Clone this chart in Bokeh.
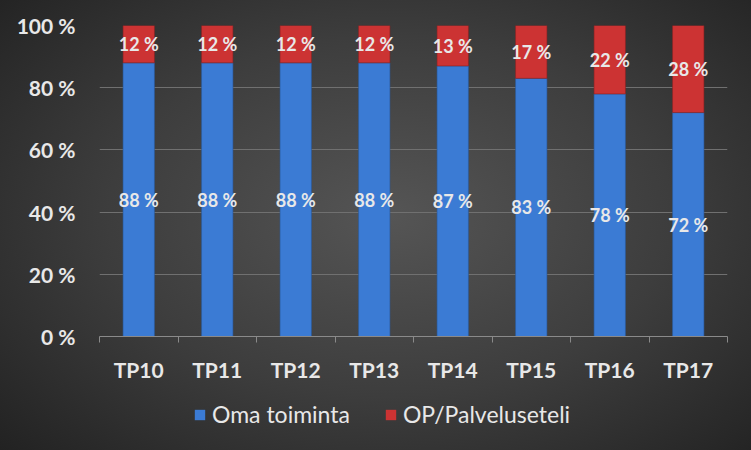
from bokeh.plotting import figure
from bokeh.layouts import column
from bokeh.models import (ColumnDataSource, FixedTicker, LinearAxis, Legend, LegendItem,
                          InlineStyleSheet, Range1d)
from bokeh.core.properties import value
from bokeh.embed import file_html
from bokeh.resources import INLINE

categories = ["TP10", "TP11", "TP12", "TP13", "TP14", "TP15", "TP16", "TP17"]
oma = [88, 88, 88, 88, 87, 83, 78, 72]
op = [12, 12, 12, 12, 13, 17, 22, 28]
y_ticks = [0, 20, 40, 60, 80, 100]
series_names = ["Oma toiminta", "OP/Palveluseteli"]

BLUE = "#3b7bd4"
RED = "#cc3333"
TXT = "#e8e8e8"
FONT = "Lato"

x = [i + 0.5 for i in range(len(categories))]
src = ColumnDataSource(dict(
    x=x, oma=oma, op=op,
    oma_top=oma,
    op_bottom=oma,
    op_top=[a + b for a, b in zip(oma, op)],
    oma_mid=[a / 2 for a in oma],
    op_mid=[a + b / 2 for a, b in zip(oma, op)],
    oma_lbl=[f"{v} %" for v in oma],
    op_lbl=[f"{v} %" for v in op],
))

p = figure(width=751, height=390, output_backend="svg", toolbar_location=None,
           x_range=Range1d(0, len(categories)), y_range=Range1d(0, 100),
           x_axis_location=None, y_axis_location=None,
           min_border_left=99, min_border_right=24, min_border_top=25, min_border_bottom=54)
p.background_fill_color = None
p.border_fill_color = None
p.outline_line_color = None

r_oma = p.vbar(x="x", bottom=0, top="oma_top", width=0.4, source=src,
               fill_color=BLUE, line_color="#2a5a9c", line_width=0.6)
r_op = p.vbar(x="x", bottom="op_bottom", top="op_top", width=0.4, source=src,
              fill_color=RED, line_color="#8c2222", line_width=0.6)

p.text(x="x", y="oma_mid", text="oma_lbl", source=src, text_align="center",
       text_baseline="middle", text_color=TXT, text_font=value(FONT),
       text_font_style="bold", text_font_size="18px")
p.text(x="x", y="op_mid", text="op_lbl", source=src, text_align="center",
       text_baseline="middle", text_color=TXT, text_font=value(FONT),
       text_font_style="bold", text_font_size="18px")

# y axis
yax = LinearAxis(ticker=FixedTicker(ticks=y_ticks),
                 major_label_overrides={t: f"{t} %" for t in y_ticks})
yax.axis_line_color = None
yax.major_tick_line_color = None
yax.minor_tick_line_color = None
yax.major_label_standoff = 18
yax.major_label_text_font = FONT
yax.major_label_text_font_style = "bold"
yax.major_label_text_font_size = "21px"
yax.major_label_text_color = TXT
p.add_layout(yax, "left")

p.ygrid.ticker = FixedTicker(ticks=y_ticks[1:])
p.ygrid.grid_line_color = "#707070"
p.ygrid.grid_line_width = 1
p.xgrid.grid_line_color = None

# x axis: boundary ticks (no labels)
bounds = list(range(len(categories) + 1))
tick_ax = LinearAxis(ticker=FixedTicker(ticks=bounds))
tick_ax.axis_line_color = "#8a8a8a"
tick_ax.major_tick_line_color = "#8a8a8a"
tick_ax.major_tick_out = 6
tick_ax.major_tick_in = 0
tick_ax.minor_tick_line_color = None
tick_ax.major_label_text_font_size = "2px"
tick_ax.major_label_text_color = None
tick_ax.major_label_standoff = 0
p.add_layout(tick_ax, "below")

lab_ax = LinearAxis(ticker=FixedTicker(ticks=x),
                    major_label_overrides={xi: c for xi, c in zip(x, categories)})
lab_ax.axis_line_color = None
lab_ax.major_tick_line_color = None
lab_ax.minor_tick_line_color = None
lab_ax.major_label_standoff = 8
lab_ax.major_label_text_font = FONT
lab_ax.major_label_text_font_style = "bold"
lab_ax.major_label_text_font_size = "21px"
lab_ax.major_label_text_color = TXT
p.add_layout(lab_ax, "below")

# legend strip (legend carriers sit outside the visible range)
lf = figure(width=751, height=60, output_backend="svg", toolbar_location=None,
            x_range=Range1d(0, 1), y_range=Range1d(0, 1),
            x_axis_location=None, y_axis_location=None,
            min_border=0)
lf.background_fill_color = None
lf.border_fill_color = None
lf.outline_line_color = None
lf.grid.visible = False
g_oma = lf.vbar(x=[-10], bottom=[-10], top=[-9], width=0.1, fill_color=BLUE, line_color=None)
g_op = lf.vbar(x=[-10], bottom=[-10], top=[-9], width=0.1, fill_color=RED, line_color=None)

legend = Legend(items=[LegendItem(label=series_names[0], renderers=[g_oma]),
                       LegendItem(label=series_names[1], renderers=[g_op])],
                orientation="horizontal", location=(94, 22))
legend.background_fill_alpha = 0
legend.border_line_color = None
legend.label_text_color = TXT
legend.label_text_font = FONT
legend.label_text_font_size = "23px"
legend.glyph_width = 13
legend.glyph_height = 13
legend.spacing = 34
legend.label_standoff = 6
legend.margin = 0
lf.add_layout(legend, "center")

layout = column(p, lf, spacing=0)
layout.stylesheets = [InlineStyleSheet(css=":host { background: radial-gradient(ellipse 75% 80% at 52% 48%, #555555 0%, #3d3d3d 50%, #1f1f1f 100%); }")]

open("out.html", "w").write(file_html(layout, INLINE))
